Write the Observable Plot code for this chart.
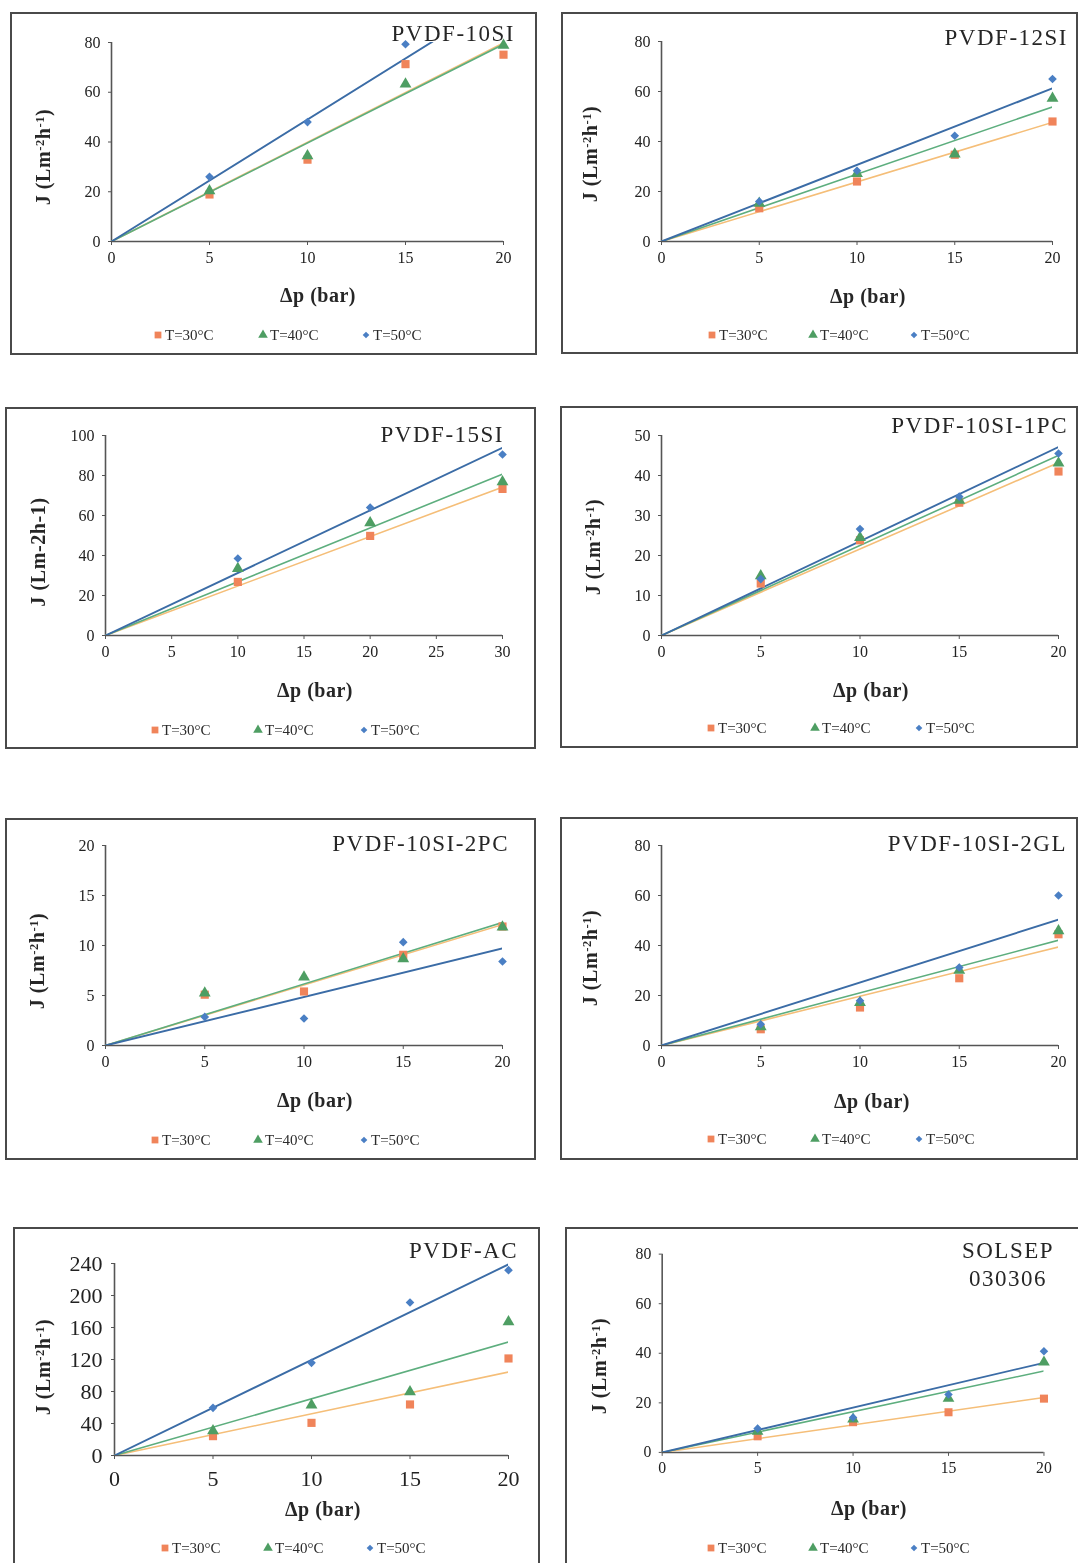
<!DOCTYPE html>
<html><head><meta charset="utf-8">
<script src="https://cdn.jsdelivr.net/npm/d3@7"></script>
<script src="https://cdn.jsdelivr.net/npm/@observablehq/plot@0.6"></script>
<style>
body{margin:0;background:#fff;}
#page{position:relative;width:1078px;height:1563px;overflow:hidden;background:#fff;font-family:"Liberation Serif","Times New Roman",serif;color:#2b2b2b;}
.box{position:absolute;border:2px solid #4a4a4a;box-sizing:border-box;}
.t{position:absolute;white-space:nowrap;line-height:1;}
.title{font-size:23px;letter-spacing:1.5px;color:#262626;}
.xlab{font-size:20px;font-weight:bold;letter-spacing:0.5px;color:#262626;}
.ylab{font-size:20px;font-weight:bold;letter-spacing:0.6px;color:#262626;}
.sup{font-size:0.62em;position:relative;top:-0.5em;}
.leg{font-size:15px;color:#2b2b2b;}
.plotwrap{position:absolute;}
</style></head><body><div id="page"></div>
<script>
// ---------- data ----------
const titles = ["PVDF-10SI","PVDF-12SI","PVDF-15SI","PVDF-10SI-1PC","PVDF-10SI-2PC","PVDF-10SI-2GL","PVDF-AC","SOLSEP 030306"];
const yLabelSup = [true,true,false,true,true,true,true,true];
const xAxisLabel = "Δp (bar)";
const seriesNames = ["T=30°C","T=40°C","T=50°C"];
const pressureStd = [5,10,15,20];
const pressure15SI = [10,20,30];
const pressures = [pressureStd,pressureStd,pressure15SI,pressureStd,pressureStd,pressureStd,pressureStd,pressureStd];
const flux30 = [
  [18.9,32.9,71.3,75.1],
  [13.3,24,34.7,48],
  [26.8,49.8,73.3],
  [13,23.8,33.2,41],
  [5.08,5.4,9.07,11.9],
  [6.5,15.2,26.9,44.5],
  [24.2,40.8,63.8,121.3],
  [6.5,12.2,16.2,21.7]
];
const flux40 = [
  [20.4,34.4,63.3,78.9],
  [15.3,27.2,35,57.3],
  [33.5,56.3,76.8],
  [14.9,24.5,33.8,43.1],
  [5.25,6.85,8.67,11.83],
  [7.5,17.2,30.1,45.9],
  [30.8,62.9,79.6,167.1],
  [8.5,13.4,21.8,36.4]
];
const flux50 = [
  [26,48,79.3,94],
  [16,28.3,42.3,65],
  [38.5,64,90.5],
  [14.1,26.6,34.7,45.5],
  [2.86,2.7,10.33,8.4],
  [8.5,17.9,31.2,60],
  [59.6,115.8,191.3,231.7],
  [9.6,14.1,23.4,40.8]
];
const xMax = [20,20,30,20,20,20,20,20];
const yMax = [80,80,100,50,20,80,240,80];
const yStep = [20,20,20,10,5,20,40,20];
const xStep = [5,5,5,5,5,5,5,5];

// ---------- layout / style ----------
const layout = [
 {box:[10,12,527,343],  plot:[111,503,42,241],    title:[[515,33]],            tAnchor:"end",    xlab:[318,295],  ylab:[43,157],  legend:[158,263,366,335]},
 {box:[561,12,517,342], plot:[661,1052,41,241],   title:[[1068,37]],           tAnchor:"end",    xlab:[868,296],  ylab:[590,154], legend:[712,813,914,335]},
 {box:[5,407,531,342],  plot:[105,502,435,635],   title:[[504,434]],           tAnchor:"end",    xlab:[315,690],  ylab:[38,552],  legend:[155,258,364,730]},
 {box:[560,406,518,342],plot:[661,1058,435,635],  title:[[1068,425]],          tAnchor:"end",    xlab:[871,690],  ylab:[593,547], legend:[711,815,919,728]},
 {box:[5,818,531,342],  plot:[105,502,845,1045],  title:[[509,843]],           tAnchor:"end",    xlab:[315,1100], ylab:[37,961],  legend:[155,258,364,1140]},
 {box:[560,817,518,343],plot:[661,1058,845,1045], title:[[1067,843]],          tAnchor:"end",    xlab:[872,1101], ylab:[590,958], legend:[711,815,919,1139]},
 {box:[13,1227,527,345],plot:[114,508,1263,1455], title:[[518,1250]],          tAnchor:"end",    xlab:[323,1509], ylab:[43,1367], legend:[165,268,370,1548], big:true},
 {box:[565,1227,520,345],plot:[663,1050,1254,1455],title:[[1008,1250],[1008,1278]], tAnchor:"middle", xlab:[869,1508], ylab:[599,1366], legend:[711,813,914,1548]}
];
const dotColors = ["#F0845A","#4E9E63","#4A7FC4"];
const lineColors = ["#F5BE78","#5DAE7E","#3B6CA6"];
const symbols = ["square","triangle","diamond2"];
const symR = [4.6,4.4,3.9];

const page = document.getElementById("page");

function addText(html, x, y, cls, anchor, rotate) {
  const d = document.createElement("div");
  d.className = "t " + cls;
  d.innerHTML = html;
  d.style.left = x + "px";
  d.style.top = y + "px";
  const tx = anchor === "end" ? "-100%" : anchor === "start" ? "0" : "-50%";
  d.style.transform = `translate(${tx},-50%)` + (rotate ? " rotate(-90deg)" : "");
  page.appendChild(d);
}

function legendSymbol(i, cx, cy) {
  const s = document.createElementNS("http://www.w3.org/2000/svg","svg");
  s.setAttribute("width",14); s.setAttribute("height",14);
  s.style.position="absolute"; s.style.left=(cx-7)+"px"; s.style.top=(cy-7)+"px";
  const gen = [d3.symbolSquare, d3.symbolTriangle, d3.symbolDiamond2][i];
  const size = [46, 40, 28][i];
  const p = document.createElementNS("http://www.w3.org/2000/svg","path");
  p.setAttribute("d", d3.symbol(gen, size)());
  p.setAttribute("transform","translate(7,7)");
  p.setAttribute("fill", dotColors[i]);
  s.appendChild(p);
  page.appendChild(s);
}

layout.forEach((L, k) => {
  const [bx, by, bw, bh] = L.box;
  const box = document.createElement("div");
  box.className = "box";
  Object.assign(box.style, {left: bx+"px", top: by+"px", width: bw+"px", height: bh+"px"});
  page.appendChild(box);

  const [px0, px1, pyTop, py0] = L.plot;
  const xs = pressures[k];
  const series = [flux30[k], flux40[k], flux50[k]];
  const pts = [];
  series.forEach((arr, s) => arr.forEach((v, j) => pts.push({p: xs[j], j: v, s})));
  const trend = [];
  series.forEach((arr, s) => {
    const slope = d3.sum(arr, (v, j) => v * xs[j]) / d3.sum(xs, x => x * x);
    [0, xMax[k]].forEach(x => trend.push({p: x, j: slope * x, s}));
  });
  const fs = L.big ? 22 : 16;
  const marks = [
    Plot.axisY({ticks: d3.range(0, yMax[k] + 1e-9, yStep[k]), tickSize: 3, tickPadding: L.big ? 9 : 8, label: null, fontSize: fs, fill: "#222", stroke: "#555"}),
    Plot.axisX({ticks: d3.range(0, xMax[k] + 1e-9, xStep[k]), tickSize: 4, tickPadding: L.big ? 11 : 6, label: null, fontSize: fs, fill: "#222", stroke: "#555"}),
    Plot.ruleY([0], {stroke: "#555", strokeWidth: 1.6}),
    Plot.ruleX([0], {stroke: "#555", strokeWidth: 1.6}),
  ];
  [0,1,2].forEach(s => {
    marks.push(Plot.line(trend.filter(d => d.s === s), {x: "p", y: "j", stroke: lineColors[s], strokeWidth: s === 2 ? 1.9 : 1.6, mixBlendMode: "multiply", clip: true}));
  });
  [0,1,2].forEach(s => {
    marks.push(Plot.dot(pts.filter(d => d.s === s && d.j <= yMax[k]), {x: "p", y: "j", symbol: () => symbols[s], r: symR[s], fill: dotColors[s], stroke: "none"}));
  });
  const svg = Plot.plot({
    width: bw, height: bh,
    marginLeft: px0 - bx, marginRight: bx + bw - px1,
    marginTop: pyTop - by, marginBottom: by + bh - py0,
    x: {domain: [0, xMax[k]]},
    y: {domain: [0, yMax[k]]},
    symbol: {type: "identity"},
    style: {fontFamily: '"Liberation Serif", serif', fontSize: fs + "px", color: "#222", background: "transparent", overflow: "visible"},
    marks
  });
  const wrap = document.createElement("div");
  wrap.className = "plotwrap";
  wrap.style.left = bx + "px"; wrap.style.top = by + "px";
  wrap.appendChild(svg);
  page.appendChild(wrap);

  // title
  const tparts = L.title.length > 1 ? titles[k].split(" ") : [titles[k]];
  tparts.forEach((t, i) => addText(t, L.title[i][0], L.title[i][1], "title", L.tAnchor));
  // axis labels
  addText(xAxisLabel, L.xlab[0], L.xlab[1], "xlab", "middle");
  const yl = yLabelSup[k] ? 'J (Lm<span class="sup">-2</span>h<span class="sup">-1</span>)' : "J (Lm-2h-1)";
  addText(yl, L.ylab[0], L.ylab[1], "ylab", "middle", true);
  // legend
  [0,1,2].forEach(s => {
    legendSymbol(s, L.legend[s], L.legend[3]);
    addText(seriesNames[s], L.legend[s] + 7, L.legend[3], "leg", "start");
  });
});
</script></body></html>
